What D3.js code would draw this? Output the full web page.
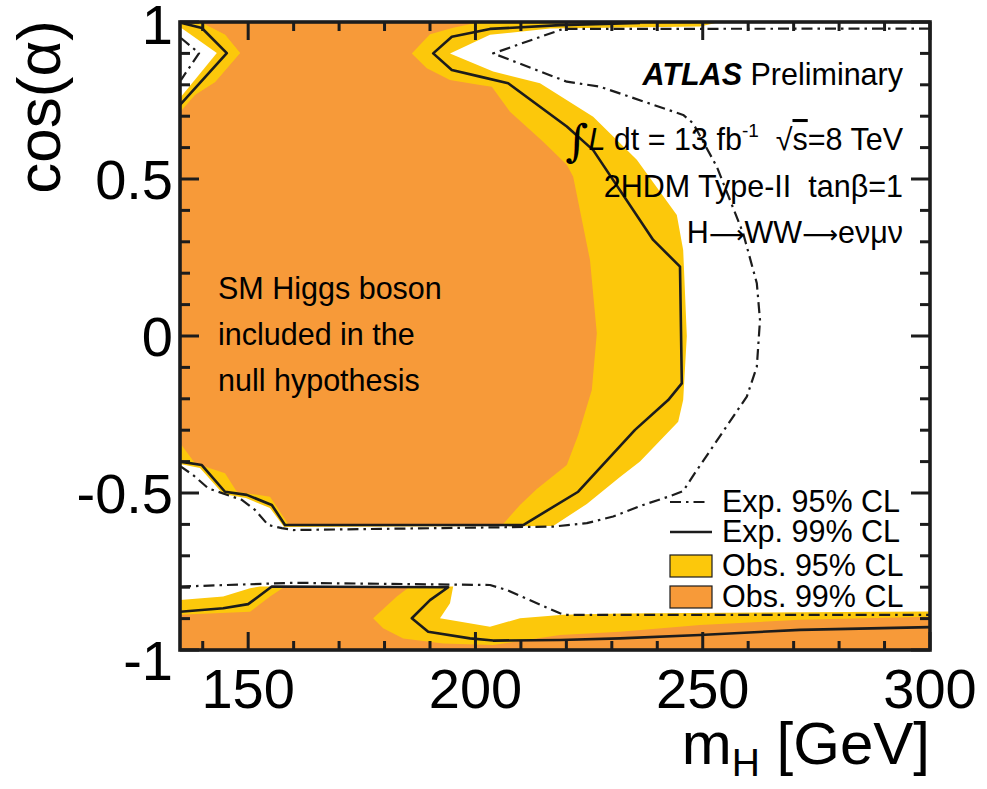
<!DOCTYPE html>
<html><head><meta charset="utf-8">
<script src="https://cdn.jsdelivr.net/npm/d3@7"></script>
<style>
html,body{margin:0;padding:0;background:#fff;}
svg{display:block;}
text{font-family:"Liberation Sans",Arial,Helvetica,sans-serif;fill:#000;}
</style></head>
<body>
<svg id="c" width="987" height="789"></svg>
<script>
// ---- data (mH [GeV], cos(alpha)) ----
const xTicksMajor = [150, 200, 250, 300];
const xTicksMinor = [140,150,160,170,180,190,200,210,220,230,240,250,260,270,280,290,300];
const yTicksMajor = [-1, -0.5, 0, 0.5, 1];
const yTickLabels = ["-1", "-0.5", "0", "0.5", "1"];
const yTicksMinor = d3.range(-10, 11).map(i => i / 10);

// Obs. 95% CL excluded region (yellow), upper part
const obs95Upper = [[135,1.0],[253.8,1.0],[249.4,0.986],[216.4,0.979],[203.2,0.959],[194.4,0.900],[203.9,0.842],[214.2,0.805],[225.9,0.698],[235.5,0.561],[244.3,0.385],[245.7,0.274],[246.5,0.0],[245.7,-0.204],[244.6,-0.273],[236.2,-0.400],[231.8,-0.449],[224.5,-0.535],[217.1,-0.605],[157.9,-0.608],[154.8,-0.548],[149.5,-0.516],[144.5,-0.503],[139.4,-0.420],[135,-0.408]];
// Obs. 95% CL, lower band
const obs95Lower = [[135,-0.841],[144.5,-0.830],[150.4,-0.803],[152.6,-0.798],[195.1,-0.798],[194.4,-0.851],[192.2,-0.899],[203.2,-0.926],[209.8,-0.899],[219.3,-0.888],[231.8,-0.884],[300,-0.877],[300,-1],[135,-1]];
// Obs. 95% CL, top-left corner ring
const obs95Corner = [[135,1.0],[139.4,1.0],[144.9,0.959],[148.2,0.901],[142.7,0.809],[138.3,0.768],[135,0.713]];
// not excluded hole in top-left corner
const allowedCorner = [[135,0.984],[143.1,0.901],[135,0.758]];

// Obs. 99% CL excluded region (orange)
const obs99Upper = [[139.4,1.0],[201.0,1.0],[195.1,0.982],[190.0,0.961],[186.0,0.900],[189.3,0.853],[194.4,0.815],[201.0,0.799],[203.6,0.794],[207.6,0.714],[214.9,0.619],[220.1,0.545],[221.5,0.507],[225.2,0.242],[226.7,0.009],[225.6,-0.172],[222.6,-0.315],[220.1,-0.411],[213.5,-0.487],[209.8,-0.538],[206.1,-0.599],[158.8,-0.599],[154.8,-0.512],[147.5,-0.496],[144.9,-0.437],[138.3,-0.405],[135,-0.341],[135,0.713],[138.3,0.768],[142.7,0.809],[148.2,0.901],[144.9,0.959]];
const obs99Lower = [[135,-0.888],[150.4,-0.878],[154.8,-0.830],[158.1,-0.798],[185.6,-0.798],[182.7,-0.830],[177.5,-0.899],[179.7,-0.931],[184.1,-0.963],[192.9,-0.979],[203.9,-0.984],[218.6,-0.952],[231.8,-0.942],[249.4,-0.920],[271.4,-0.904],[300,-0.894],[300,-1],[135,-1]];

// Exp. 99% CL contours (solid)
const exp99Upper = [[236.2,0.997],[218.6,0.990],[203.2,0.978],[194.8,0.953],[190.7,0.900],[194.8,0.847],[201.0,0.826],[207.2,0.805],[220.1,0.667],[225.9,0.592],[239.1,0.306],[245.0,0.221],[245.4,-0.151],[242.4,-0.204],[235.1,-0.299],[222.6,-0.496],[210.5,-0.602],[158.1,-0.602],[155.2,-0.538],[149.7,-0.506],[144.9,-0.496],[139.8,-0.411],[135,-0.400]];
const exp99Corner = [[135.4,0.997],[139.8,0.981],[145.3,0.901],[135,0.736]];
const exp99Lower = [[135,-0.878],[144.5,-0.867],[150.0,-0.854],[155.2,-0.798],[194.0,-0.800],[190.0,-0.841],[186.0,-0.899],[189.6,-0.942],[198.8,-0.963],[203.9,-0.970],[218.6,-0.968],[231.8,-0.963],[249.4,-0.952],[271.4,-0.936],[300,-0.927]];

// Exp. 95% CL contours (dash-dot)
const exp95Upper = [[300,0.979],[219.3,0.978],[203.9,0.900],[220.1,0.810],[227.4,0.794],[245.7,0.704],[247.9,0.677],[253.1,0.539],[258.9,0.327],[261.9,0.168],[262.6,0.051],[261.9,-0.098],[259.7,-0.193],[248.3,-0.436],[245.7,-0.494],[242.8,-0.510],[236.9,-0.538],[230.3,-0.575],[224.5,-0.596],[217.1,-0.607],[159.9,-0.618],[157.4,-0.612],[154.4,-0.602],[151.5,-0.554],[148.6,-0.522],[141.2,-0.485],[137.9,-0.443],[135.2,-0.416]];
const exp95Corner = [[135.2,0.949],[139.2,0.901],[135.2,0.815]];
const exp95Lower = [[135,-0.798],[159.9,-0.786],[203.2,-0.793],[206.9,-0.809],[218.6,-0.883],[220.1,-0.888],[300,-0.888]];

const legendLabels = ["Exp. 95% CL", "Exp. 99% CL", "Obs. 95% CL", "Obs. 99% CL"];

// ---- drawing ----
const YEL = "#FCC80B", ORA = "#F79A39", INK = "#1c1c1c";
const svg = d3.select("#c");
const x = d3.scaleLinear().domain([135, 300]).range([180, 930]);
const y = d3.scaleLinear().domain([-1, 1]).range([650, 22]);
const line = d3.line().x(d => x(d[0])).y(d => y(d[1]));

svg.append("clipPath").attr("id", "pa").append("rect")
  .attr("x", 180).attr("y", 22).attr("width", 750).attr("height", 628);
const g = svg.append("g").attr("clip-path", "url(#pa)");

function poly(d, fill) { g.append("path").attr("d", line(d) + "Z").attr("fill", fill); }
poly(obs95Upper, YEL);
poly(obs95Lower, YEL);
poly(obs99Upper, ORA);
poly(obs99Lower, ORA);
poly(obs95Corner, YEL);
poly(allowedCorner, "#fff");

function cont(d, dash) {
  g.append("path").attr("d", line(d)).attr("fill", "none").attr("stroke", INK)
   .attr("stroke-width", dash ? 2.2 : 2.6).attr("stroke-linejoin", "round")
   .attr("stroke-dasharray", dash ? "11,5,2.5,5" : null);
}
[exp99Upper, exp99Corner, exp99Lower].forEach(d => cont(d, false));
[exp95Upper, exp95Corner, exp95Lower].forEach(d => cont(d, true));

// ticks
const tk = svg.append("g").attr("stroke", INK).attr("stroke-width", 3);
xTicksMinor.forEach(v => {
  const L = xTicksMajor.includes(v) ? 18 : 9;
  tk.append("line").attr("x1", x(v)).attr("x2", x(v)).attr("y1", 650).attr("y2", 650 - L);
  tk.append("line").attr("x1", x(v)).attr("x2", x(v)).attr("y1", 22).attr("y2", 22 + L);
});
yTicksMinor.forEach(v => {
  const L = yTicksMajor.some(m => Math.abs(m - v) < 1e-9) ? 19 : 10;
  tk.append("line").attr("x1", 180).attr("x2", 180 + L).attr("y1", y(v)).attr("y2", y(v));
  tk.append("line").attr("x1", 930).attr("x2", 930 - L).attr("y1", y(v)).attr("y2", y(v));
});
svg.append("rect").attr("x", 180).attr("y", 22).attr("width", 750).attr("height", 628)
  .attr("fill", "none").attr("stroke", INK).attr("stroke-width", 3.6);

// tick labels
xTicksMajor.forEach(v => svg.append("text").attr("x", x(v)).attr("y", 708)
  .attr("text-anchor", "middle").attr("font-size", 56).text(v));
yTicksMajor.forEach((v, i) => svg.append("text").attr("x", 173)
  .attr("y", y(v) + 20 + (v === -1 ? 10 : 0) + (v === 1 ? 2 : 0)).attr("text-anchor", "end").attr("font-size", 56).text(yTickLabels[i]));

// axis titles
const xt = svg.append("text").attr("x", 930).attr("y", 764).attr("text-anchor", "end").attr("font-size", 60);
xt.append("tspan").text("m");
xt.append("tspan").attr("font-size", 39).attr("dy", 12).text("H");
xt.append("tspan").attr("dy", -12).text(" [GeV]");
svg.append("text").attr("transform", "translate(60,20) rotate(-90)").attr("text-anchor", "end")
  .attr("font-size", 62).text("cos(α)");

// annotations
const fs = 30.5;
const t1 = svg.append("text").attr("x", 903).attr("y", 85).attr("text-anchor", "end").attr("font-size", fs);
t1.append("tspan").attr("font-weight", "bold").attr("font-style", "italic").text("ATLAS");
t1.append("tspan").text(" Preliminary");
const t2 = svg.append("text").attr("x", 903).attr("y", 150).attr("text-anchor", "end").attr("font-size", fs).style("white-space", "pre");
t2.append("tspan").attr("font-family", "DejaVu Serif").attr("font-size", 44).attr("dy", 6).text("∫");
t2.append("tspan").attr("font-style", "italic").attr("dy", -6).text("L");
t2.append("tspan").text(" dt = 13 fb");
t2.append("tspan").attr("font-size", 19).attr("dy", -13).text("-1");
t2.append("tspan").attr("dy", 13).text("  √");
t2.append("tspan").style("text-decoration", "overline").text("s");
t2.append("tspan").text("=8 TeV");
svg.append("text").attr("x", 903).attr("y", 197).attr("text-anchor", "end").attr("font-size", fs)
  .style("white-space", "pre").text("2HDM Type-II  tanβ=1");
const t4 = svg.append("text").attr("x", 903).attr("y", 243).attr("text-anchor", "end").attr("font-size", fs);
t4.append("tspan").text("H");
t4.append("tspan").attr("font-family", "DejaVu Sans").attr("font-size", 25).text("⟶");
t4.append("tspan").text("WW");
t4.append("tspan").attr("font-family", "DejaVu Sans").attr("font-size", 25).text("⟶");
t4.append("tspan").text("eνμν");
["SM Higgs boson", "included in the", "null hypothesis"].forEach((s, i) =>
  svg.append("text").attr("x", 218).attr("y", 299 + i * 46).attr("font-size", fs).text(s));

// legend
const lg = svg.append("g");
const rowsY = [502, 532, 566, 597];
lg.append("line").attr("x1", 670).attr("x2", 708).attr("y1", rowsY[0]).attr("y2", rowsY[0])
  .attr("stroke", INK).attr("stroke-width", 2.2).attr("stroke-dasharray", "11,5,2.5,5");
lg.append("line").attr("x1", 670).attr("x2", 712).attr("y1", rowsY[1]).attr("y2", rowsY[1])
  .attr("stroke", INK).attr("stroke-width", 2.4);
[[YEL, 2], [ORA, 3]].forEach(([c, i]) => lg.append("rect").attr("x", 670).attr("y", rowsY[i] - 11)
  .attr("width", 42).attr("height", 22).attr("fill", c).attr("stroke", INK).attr("stroke-width", 1.2));
legendLabels.forEach((s, i) => lg.append("text").attr("x", 722).attr("y", rowsY[i] + 10)
  .attr("font-size", fs).text(s));
</script>
</body></html>
